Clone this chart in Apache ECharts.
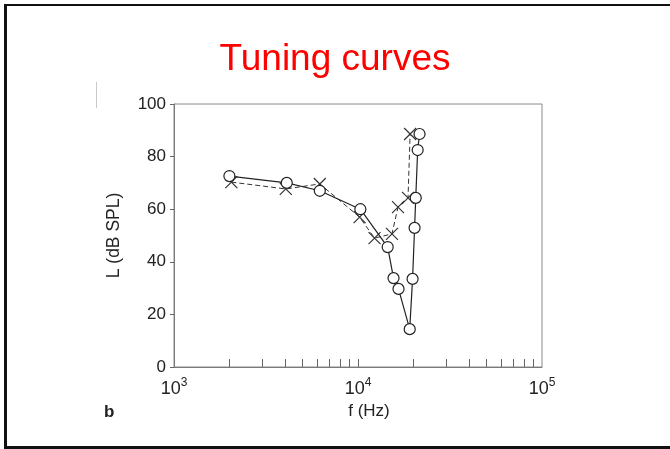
<!DOCTYPE html>
<html>
<head>
<meta charset="utf-8">
<style>
  html, body { margin: 0; padding: 0; background: #fff; }
  #chart { width: 670px; height: 449px; }
</style>
<script src="https://cdn.jsdelivr.net/npm/echarts@6/dist/echarts.min.js"></script>
</head>
<body>
<div id="chart"></div>
<script>
// Tone frequency (Hz) and threshold level (dB SPL) for the two fibres
var circleFreq  = [2000, 4100, 6200, 10300, 14500, 15600, 16600, 19100, 19800, 20300, 20600, 21100, 21600];
var circleLevel = [72.6, 70, 67, 60, 45.6, 33.8, 29.7, 14.4, 33.5, 52.9, 64.3, 82.5, 88.6];
var crossFreq   = [2050, 4050, 6200, 10200, 12300, 15300, 16500, 18700, 19200];
var crossLevel  = [70.3, 67.7, 69.6, 57, 49, 50.6, 60.8, 64.3, 88.6];

// Axis tick values
var yTicks = [0, 20, 40, 60, 80, 100];
var xLabelValues = [1000, 10000, 100000];
var xMinorTicks = [2000, 3000, 4000, 5000, 6000, 7000, 8000, 9000, 10000,
                   20000, 30000, 40000, 50000, 60000, 70000, 80000, 90000];

function pairs(xs, ys) {
  return xs.map(function (x, i) { return [x, ys[i]]; });
}

var FONT = '"Liberation Sans", Arial, sans-serif';
var chart = echarts.init(document.getElementById('chart'));

chart.setOption({
  backgroundColor: '#ffffff',
  animation: false,
  title: {
    text: 'Tuning curves',
    left: 'center',
    top: 36,
    textStyle: { color: '#ff0000', fontSize: 37, fontWeight: 'normal', fontFamily: FONT }
  },
  grid: {
    left: 174, top: 104, width: 368, height: 263,
    show: true, borderColor: '#8a8a8a', borderWidth: 1, backgroundColor: 'transparent'
  },
  xAxis: {
    type: 'log',
    logBase: 10,
    min: 1000,
    max: 100000,
    name: 'f (Hz)',
    nameLocation: 'middle',
    nameGap: 36,
    nameTextStyle: { color: '#222', fontSize: 17, fontFamily: FONT, padding: [0, 0, 0, 22] },
    axisLine: { show: true, lineStyle: { color: '#7a7a7a', width: 1 } },
    axisTick: {
      show: true, inside: true, length: 8,
      customValues: xMinorTicks,
      lineStyle: { color: '#666', width: 1 }
    },
    axisLabel: {
      customValues: xLabelValues,
      margin: 7,
      color: '#222',
      fontSize: 18,
      fontFamily: FONT,
      formatter: function (v) {
        var e = Math.round(Math.log10(v));
        return '{b|10}{s|' + e + '}';
      },
      rich: {
        b: { fontSize: 18, fontFamily: FONT, color: '#222', padding: [6, 0, 0, 0] },
        s: { fontSize: 12, fontFamily: FONT, color: '#222', padding: [0, 0, 6, 0] }
      }
    },
    splitLine: { show: false },
    minorTick: { show: false }
  },
  yAxis: {
    type: 'value',
    min: 0,
    max: 100,
    interval: 20,
    name: 'L (dB SPL)',
    nameLocation: 'middle',
    nameGap: 51,
    nameRotate: 90,
    nameTextStyle: { color: '#222', fontSize: 17.5, fontFamily: FONT },
    axisLine: { show: true, lineStyle: { color: '#7a7a7a', width: 1 } },
    axisTick: { show: true, inside: false, length: 4, lineStyle: { color: '#666' } },
    axisLabel: {
      customValues: yTicks,
      margin: 8, color: '#222', fontSize: 17, fontFamily: FONT
    },
    splitLine: { show: false }
  },
  graphic: [
    // page frame: left, top and bottom edges
    { type: 'rect', shape: { x: 4, y: 4, width: 3, height: 445 }, style: { fill: '#111' }, silent: true },
    { type: 'rect', shape: { x: 4, y: 4, width: 666, height: 2 }, style: { fill: '#111' }, silent: true },
    { type: 'rect', shape: { x: 4, y: 446, width: 666, height: 3 }, style: { fill: '#111' }, silent: true },
    // faint stroke left of the panel
    { type: 'line', shape: { x1: 96.5, y1: 82, x2: 96.5, y2: 108 }, style: { stroke: '#c8c8c8', lineWidth: 1 }, silent: true },
    // panel letter
    {
      type: 'text', left: 104, top: 404, silent: true,
      style: { text: 'b', fill: '#222', font: 'bold 17px ' + FONT }
    }
  ],
  series: [
    {
      name: 'crosses',
      type: 'line',
      data: pairs(crossFreq, crossLevel),
      symbol: 'path://M0,0L10,10M10,0L0,10',
      symbolSize: 12,
      showSymbol: true,
      lineStyle: { color: '#333', width: 1, type: [5, 3] },
      itemStyle: { color: 'rgba(0,0,0,0)', borderColor: '#333', borderWidth: 1.2 },
      z: 2
    },
    {
      name: 'circles',
      type: 'line',
      data: pairs(circleFreq, circleLevel),
      symbol: 'circle',
      symbolSize: 11,
      showSymbol: true,
      lineStyle: { color: '#222', width: 1.2 },
      itemStyle: { color: '#ffffff', borderColor: '#222', borderWidth: 1.2 },
      z: 3
    }
  ]
});
</script>
</body>
</html>
